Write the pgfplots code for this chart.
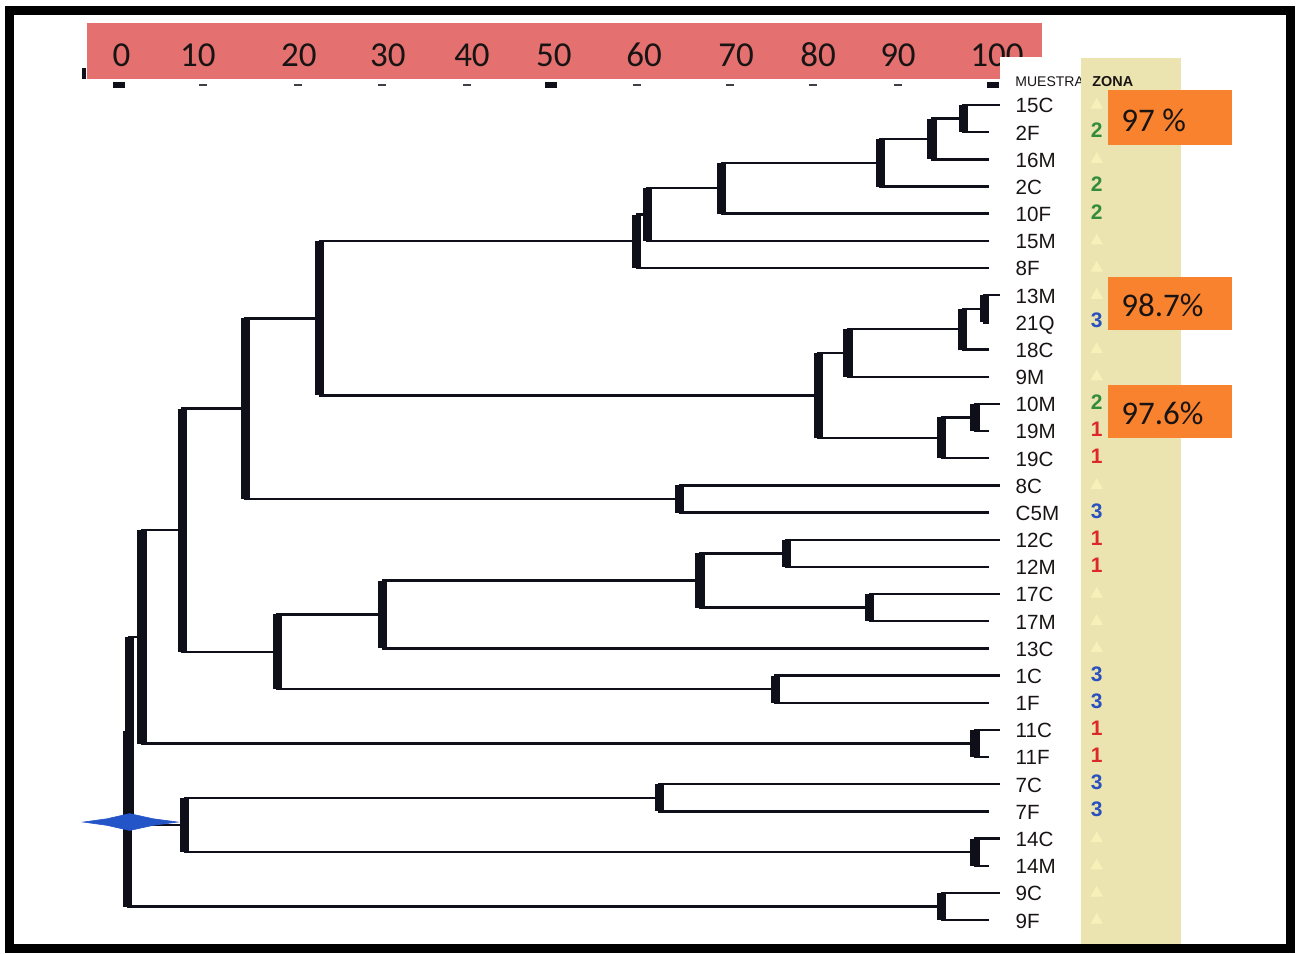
\documentclass[border=0pt]{standalone}
\usepackage{fontspec}
\setmainfont{Liberation Sans}
\newfontfamily\calibri{Carlito}
\usepackage{pgfplots}
\pgfplotsset{compat=1.18}
\definecolor{hdr}{RGB}{228,112,112}
\definecolor{beige}{RGB}{236,228,176}
\definecolor{orng}{RGB}{248,130,45}
\definecolor{dk}{RGB}{15,15,25}
\definecolor{mkblue}{RGB}{35,85,200}
\definecolor{zgreen}{RGB}{50,140,60}
\definecolor{zblue}{RGB}{40,80,190}
\definecolor{zred}{RGB}{220,40,40}
\definecolor{paley}{RGB}{246,240,185}
\definecolor{txt}{RGB}{25,20,20}
\tikzset{
  hl/.style={anchor=base, font=\calibri\fontsize{17.5}{18}\selectfont, text=txt, inner sep=0pt},
  lf/.style={anchor=base west, inner sep=0pt, font=\fontsize{10.3}{11}\selectfont, text=txt},
  zn/.style={anchor=base, inner sep=0pt, font=\bfseries\fontsize{10.5}{11}\selectfont},
  pc/.style={anchor=base west, inner sep=0pt, font=\calibri\fontsize{16.5}{17}\selectfont, text=txt},
}
\begin{document}
\begin{tikzpicture}
\begin{axis}[
  scale only axis, width=648.5pt, height=476.5pt,
  xmin=-13.70, xmax=134.36, ymin=-3.865, ymax=31.21, y dir=reverse,
  hide axis, clip=false, unbounded coords=jump,
]
\path (axis cs:-13.70,-3.865) rectangle (axis cs:134.36,31.21);
% header band
\fill[hdr] (axis cs:-3.77,-3.02) rectangle (axis cs:105.25,-0.957);
\fill[dk] (axis cs:-4.34,-1.36) rectangle (axis cs:-3.88,-0.96);
\node[hl] at (axis cs:0.17,-1.40) {0};
\node[hl] at (axis cs:8.9,-1.40) {10};
\node[hl] at (axis cs:20.43,-1.40) {20};
\node[hl] at (axis cs:30.59,-1.40) {30};
\node[hl] at (axis cs:40.18,-1.40) {40};
\node[hl] at (axis cs:49.54,-1.40) {50};
\node[hl] at (axis cs:59.82,-1.40) {60};
\node[hl] at (axis cs:70.32,-1.40) {70};
\node[hl] at (axis cs:79.68,-1.40) {80};
\node[hl] at (axis cs:88.81,-1.40) {90};
\node[hl] at (axis cs:100.11,-1.40) {100};
\fill[white] (axis cs:100.46,-1.77) rectangle (axis cs:105.6,-0.88);
% scale dashes
\addplot[only marks, mark=-, mark size=2pt, mark options={line width=1.4pt}, color=dk!80] coordinates {
 (9.47,-0.736) (20.32,-0.736) (29.91,-0.736) (39.61,-0.736) (59.0,-0.736) (69.6,-0.736) (79.1,-0.736) (88.8,-0.736)};
\addplot[only marks, mark=-, mark size=2.8pt, mark options={line width=2.6pt}, color=dk] coordinates {
 (-0.11,-0.736) (49.2,-0.736) (99.66,-0.736)};
% dendrogram horizontal connectors
\addplot[line width=1.2pt, color=dk] coordinates {
 (100.4,0) (96.3,0) (96.3,1) (99.2,1) (nan,nan)
 (96.3,0.5) (92.7,0.5) (92.7,2) (99.2,2) (nan,nan)
 (92.7,1.25) (86.8,1.25) (86.8,3) (99.2,3) (nan,nan)
 (86.8,2.125) (68.7,2.125) (68.7,4) (99.2,4) (nan,nan)
 (68.7,3.0625) (60.2,3.0625) (60.2,5) (99.2,5) (nan,nan)
 (60.2,4.03125) (59.0,4.03125) (59.0,6) (99.2,6) (nan,nan)
 (100.4,7) (98.7,7) (98.7,8) (99.2,8) (nan,nan)
 (98.7,7.5) (96.2,7.5) (96.2,9) (99.2,9) (nan,nan)
 (96.2,8.25) (83.1,8.25) (83.1,10) (99.2,10) (nan,nan)
 (100.4,11) (97.6,11) (97.6,12) (99.2,12) (nan,nan)
 (97.6,11.5) (93.8,11.5) (93.8,13) (99.2,13) (nan,nan)
 (83.1,9.125) (79.7,9.125) (79.7,12.25) (93.8,12.25) (nan,nan)
 (59.0,5.015625) (22.8,5.015625) (22.8,10.6875) (79.7,10.6875) (nan,nan)
 (100.4,14) (63.9,14) (63.9,15) (99.2,15) (nan,nan)
 (22.8,7.8516) (14.3,7.8516) (14.3,14.5) (63.9,14.5) (nan,nan)
 (100.4,16) (76.1,16) (76.1,17) (99.2,17) (nan,nan)
 (100.4,18) (85.6,18) (85.6,19) (99.2,19) (nan,nan)
 (76.1,16.5) (66.2,16.5) (66.2,18.5) (85.6,18.5) (nan,nan)
 (66.2,17.5) (30.0,17.5) (30.0,20) (99.2,20) (nan,nan)
 (100.4,21) (74.8,21) (74.8,22) (99.2,22) (nan,nan)
 (30.0,18.75) (18.0,18.75) (18.0,21.5) (74.8,21.5) (nan,nan)
 (14.3,11.1758) (7.1,11.1758) (7.1,20.125) (18.0,20.125) (nan,nan)
 (100.4,23) (97.6,23) (97.6,24) (99.2,24) (nan,nan)
 (7.1,15.6504) (2.5,15.6504) (2.5,23.5) (97.6,23.5) (nan,nan)
 (100.4,25) (61.6,25) (61.6,26) (99.2,26) (nan,nan)
 (100.4,27) (97.6,27) (97.6,28) (99.2,28) (nan,nan)
 (61.6,25.5) (7.4,25.5) (7.4,27.5) (97.6,27.5) (nan,nan)
 (2.5,19.5752) (1.1,19.5752) (1.1,26.5) (7.4,26.5) (nan,nan)
 (100.4,29) (93.8,29) (93.8,30) (99.2,30) (nan,nan)
 (1.1,23.0376) (0.9,23.0376) (0.9,29.5) (93.8,29.5)
};
% dendrogram thick node bars
\addplot[line width=4.6pt, color=dk, line cap=butt] coordinates {
 (96.3,0) (96.3,1) (nan,nan)
 (92.7,0.5) (92.7,2) (nan,nan)
 (86.8,1.25) (86.8,3) (nan,nan)
 (68.7,2.125) (68.7,4) (nan,nan)
 (60.2,3.0625) (60.2,5) (nan,nan)
 (59.0,4.03125) (59.0,6) (nan,nan)
 (98.7,7) (98.7,8) (nan,nan)
 (96.2,7.5) (96.2,9) (nan,nan)
 (83.1,8.25) (83.1,10) (nan,nan)
 (97.6,11) (97.6,12) (nan,nan)
 (93.8,11.5) (93.8,13) (nan,nan)
 (79.7,9.125) (79.7,12.25) (nan,nan)
 (22.8,5.015625) (22.8,10.6875) (nan,nan)
 (63.9,14) (63.9,15) (nan,nan)
 (14.3,7.8516) (14.3,14.5) (nan,nan)
 (76.1,16) (76.1,17) (nan,nan)
 (85.6,18) (85.6,19) (nan,nan)
 (66.2,16.5) (66.2,18.5) (nan,nan)
 (30.0,17.5) (30.0,20) (nan,nan)
 (74.8,21) (74.8,22) (nan,nan)
 (18.0,18.75) (18.0,21.5) (nan,nan)
 (7.1,11.1758) (7.1,20.125) (nan,nan)
 (97.6,23) (97.6,24) (nan,nan)
 (2.5,15.6504) (2.5,23.5) (nan,nan)
 (61.6,25) (61.6,26) (nan,nan)
 (97.6,27) (97.6,28) (nan,nan)
 (7.4,25.5) (7.4,27.5) (nan,nan)
 (1.1,19.5752) (1.1,26.5) (nan,nan)
 (93.8,29) (93.8,30) (nan,nan)
 (0.9,23.0376) (0.9,29.5)
};
% root marker
\addplot[fill=mkblue, draw=mkblue, line width=0.3pt] coordinates {
 (-4.2,26.39) (-1.5,26.27) (1.1,26.08) (3.8,26.27) (6.6,26.39) (3.8,26.51) (1.1,26.70) (-1.5,26.51)} -- cycle;
% leaf labels
\node[lf] at (axis cs:102.2,0.29) {15C};
\node[lf] at (axis cs:102.2,1.29) {2F};
\node[lf] at (axis cs:102.2,2.29) {16M};
\node[lf] at (axis cs:102.2,3.29) {2C};
\node[lf] at (axis cs:102.2,4.29) {10F};
\node[lf] at (axis cs:102.2,5.29) {15M};
\node[lf] at (axis cs:102.2,6.29) {8F};
\node[lf] at (axis cs:102.2,7.29) {13M};
\node[lf] at (axis cs:102.2,8.29) {21Q};
\node[lf] at (axis cs:102.2,9.29) {18C};
\node[lf] at (axis cs:102.2,10.29) {9M};
\node[lf] at (axis cs:102.2,11.29) {10M};
\node[lf] at (axis cs:102.2,12.29) {19M};
\node[lf] at (axis cs:102.2,13.29) {19C};
\node[lf] at (axis cs:102.2,14.29) {8C};
\node[lf] at (axis cs:102.2,15.29) {C5M};
\node[lf] at (axis cs:102.2,16.29) {12C};
\node[lf] at (axis cs:102.2,17.29) {12M};
\node[lf] at (axis cs:102.2,18.29) {17C};
\node[lf] at (axis cs:102.2,19.29) {17M};
\node[lf] at (axis cs:102.2,20.29) {13C};
\node[lf] at (axis cs:102.2,21.29) {1C};
\node[lf] at (axis cs:102.2,22.29) {1F};
\node[lf] at (axis cs:102.2,23.29) {11C};
\node[lf] at (axis cs:102.2,24.29) {11F};
\node[lf] at (axis cs:102.2,25.29) {7C};
\node[lf] at (axis cs:102.2,26.29) {7F};
\node[lf] at (axis cs:102.2,27.29) {14C};
\node[lf] at (axis cs:102.2,28.29) {14M};
\node[lf] at (axis cs:102.2,29.29) {9C};
\node[lf] at (axis cs:102.2,30.29) {9F};
\node[anchor=base west, inner sep=0pt, font=\fontsize{7}{8}\selectfont, text=txt] at (axis cs:102.17,-0.699) {MUESTRA};
% zone column
\fill[beige] (axis cs:109.70,-1.73) rectangle (axis cs:121.12,30.95);
\node[anchor=base west, inner sep=0pt, font=\bfseries\fontsize{7.2}{8}\selectfont, text=txt] at (axis cs:110.96,-0.699) {ZONA};
\addplot[only marks, mark=triangle*, mark size=3.2pt, color=paley] coordinates {
 (111.5,0) (111.5,2) (111.5,5) (111.5,6) (111.5,7) (111.5,9) (111.5,10) (111.5,14)
 (111.5,18) (111.5,19) (111.5,20) (111.5,27) (111.5,28) (111.5,29) (111.5,30)};
\node[zn, text=zgreen] at (axis cs:111.5,1.2) {2};
\node[zn, text=zgreen] at (axis cs:111.5,3.2) {2};
\node[zn, text=zgreen] at (axis cs:111.5,4.2) {2};
\node[zn, text=zblue] at (axis cs:111.5,8.2) {3};
\node[zn, text=zgreen] at (axis cs:111.5,11.2) {2};
\node[zn, text=zred] at (axis cs:111.5,12.2) {1};
\node[zn, text=zred] at (axis cs:111.5,13.2) {1};
\node[zn, text=zblue] at (axis cs:111.5,15.2) {3};
\node[zn, text=zred] at (axis cs:111.5,16.2) {1};
\node[zn, text=zred] at (axis cs:111.5,17.2) {1};
\node[zn, text=zblue] at (axis cs:111.5,21.2) {3};
\node[zn, text=zblue] at (axis cs:111.5,22.2) {3};
\node[zn, text=zred] at (axis cs:111.5,23.2) {1};
\node[zn, text=zred] at (axis cs:111.5,24.2) {1};
\node[zn, text=zblue] at (axis cs:111.5,25.2) {3};
\node[zn, text=zblue] at (axis cs:111.5,26.2) {3};
% percentage boxes
\fill[orng] (axis cs:112.79,-0.552) rectangle (axis cs:126.94,1.472);
\fill[orng] (axis cs:112.79,6.33) rectangle (axis cs:126.94,8.28);
\fill[orng] (axis cs:112.79,10.31) rectangle (axis cs:126.94,12.26);
\node[pc] at (axis cs:114.27,0.957) {97 \%};
\node[pc] at (axis cs:114.27,7.80) {98.7\%};
\node[pc] at (axis cs:114.27,11.74) {97.6\%};
% frame
\draw[line width=4.5pt, black] (axis cs:-12.67,-3.478) rectangle (axis cs:133.56,31.045);
\end{axis}
\end{tikzpicture}
\end{document}
